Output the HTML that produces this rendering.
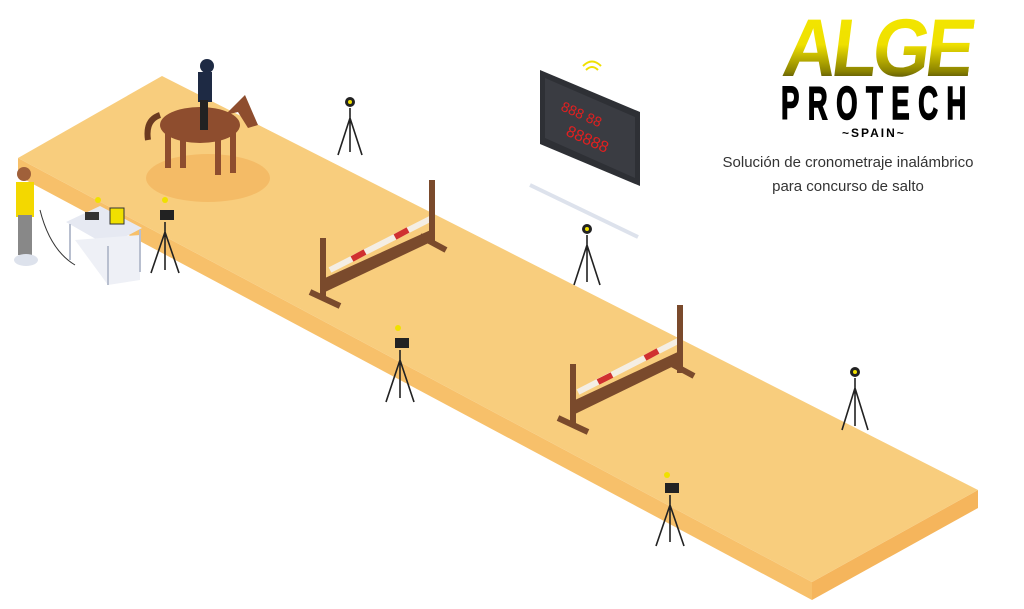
<!DOCTYPE html>
<html><head><meta charset="utf-8"><style>
html,body{margin:0;padding:0;background:#fff}
body{width:1024px;height:609px;position:relative;overflow:hidden;font-family:"Liberation Sans",sans-serif}
.alge{position:absolute;left:784px;top:4px;font-size:82px;font-weight:bold;letter-spacing:-5px;line-height:90px;background:linear-gradient(180deg,#f4e800 0%,#efe000 45%,#8a8200 75%,#111 95%);-webkit-background-clip:text;background-clip:text;color:transparent;transform:scaleX(0.9) skewX(-8deg);transform-origin:left}
.pro{position:absolute;left:781px;top:80px;font-size:46px;font-weight:bold;letter-spacing:14px;line-height:46px;transform:scaleX(0.6);transform-origin:left;color:#000;-webkit-text-stroke:1.5px #000}
.spain{position:absolute;left:842px;top:126px;font-size:12px;font-weight:bold;letter-spacing:2px}
.sub{position:absolute;left:720px;top:151px;width:256px;text-align:center;font-size:15px;line-height:24px;color:#333}
</style></head><body>
<svg width="1024" height="609" style="position:absolute;left:0;top:0">
<polygon points="18,158 812,582 812,600 18,176" fill="#f7c06a"/>
<polygon points="812,582 978,490 978,508 812,600" fill="#f5b55c"/>
<polygon points="18,158 162,76 978,490 812,582" fill="#f8cd7d"/>
<ellipse cx="208" cy="178" rx="62" ry="24" fill="#f4bb66"/>
<line x1="530" y1="185" x2="638" y2="237" stroke="#dde2ec" stroke-width="4"/>
<polygon points="540,70 640,112 640,186 540,144" fill="#2e3035"/>
<polygon points="545,78 635,117 635,178 545,138" fill="#3a3c42"/>
<text x="560" y="110" fill="#e02020" font-size="14" transform="rotate(24 560 110)">888 88</text>
<text x="565" y="135" fill="#e02020" font-size="16" transform="rotate(24 565 135)">88888</text>
<path d="M586,70 q6,-6 12,0 M583,66 q9,-9 18,0" stroke="#f0e000" stroke-width="2" fill="none"/>
<g fill="#8e4d2e">
<ellipse cx="200" cy="125" rx="40" ry="18"/>
<polygon points="225,115 245,95 258,125 248,128 238,112"/>
<rect x="165" y="128" width="6" height="40"/><rect x="180" y="130" width="6" height="38"/>
<rect x="215" y="130" width="6" height="45"/><rect x="230" y="128" width="6" height="45"/>
<path d="M160,115 q-15,5 -12,25" stroke="#6b3a20" stroke-width="6" fill="none"/>
</g>
<rect x="198" y="72" width="14" height="30" fill="#1e2a44"/><circle cx="207" cy="66" r="7" fill="#1e2a44"/>
<rect x="200" y="100" width="8" height="30" fill="#222"/>
<rect x="16" y="182" width="18" height="35" fill="#f3d800"/>
<rect x="18" y="215" width="14" height="40" fill="#888"/>
<circle cx="24" cy="174" r="7" fill="#a0603a"/>
<ellipse cx="26" cy="260" rx="12" ry="6" fill="#dde2ec"/>
<polygon points="66,222 100,206 142,228 108,246" fill="#e6e9f2"/>
<polygon points="75,240 140,235 140,280 108,285" fill="#eef0f6"/>
<g stroke="#b8bfcf" stroke-width="2"><line x1="70" y1="224" x2="70" y2="260"/><line x1="108" y1="246" x2="108" y2="285"/><line x1="140" y1="230" x2="140" y2="272"/></g>
<rect x="110" y="208" width="14" height="16" fill="#f0e000" stroke="#333"/>
<rect x="85" y="212" width="14" height="8" fill="#333"/>
<path d="M40,210 q10,40 35,55" stroke="#333" fill="none"/>
<g>
<line x1="330" y1="270" x2="432" y2="218" stroke="#f4eee4" stroke-width="6"/>
<line x1="352" y1="259" x2="365" y2="252" stroke="#d03030" stroke-width="6"/>
<line x1="395" y1="237" x2="408" y2="230" stroke="#d03030" stroke-width="6"/>
<polygon points="325,278 435,228 435,240 325,292" fill="#7a4a2c"/>
<rect x="320" y="238" width="6" height="60" fill="#7a4a2c"/><rect x="429" y="180" width="6" height="64" fill="#7a4a2c"/>
<line x1="310" y1="292" x2="340" y2="306" stroke="#7a4a2c" stroke-width="6"/>
<line x1="420" y1="236" x2="446" y2="250" stroke="#7a4a2c" stroke-width="6"/>
</g>
<g>
<line x1="578" y1="392" x2="680" y2="340" stroke="#f4eee4" stroke-width="6"/>
<line x1="598" y1="382" x2="612" y2="375" stroke="#d03030" stroke-width="6"/>
<line x1="645" y1="358" x2="658" y2="351" stroke="#d03030" stroke-width="6"/>
<polygon points="575,400 682,350 682,362 575,414" fill="#7a4a2c"/>
<rect x="570" y="364" width="6" height="62" fill="#7a4a2c"/><rect x="677" y="305" width="6" height="68" fill="#7a4a2c"/>
<line x1="558" y1="418" x2="588" y2="432" stroke="#7a4a2c" stroke-width="6"/>
<line x1="668" y1="362" x2="694" y2="376" stroke="#7a4a2c" stroke-width="6"/>
</g>
<g stroke="#222" stroke-width="1.6" fill="none">
<path d="M350,108 L350,130 M350,118 L338,155 M350,118 L362,155 M350,118 L350,152"/>
<path d="M587,235 L587,255 M587,245 L574,285 M587,245 L600,285 M587,245 L587,282"/>
<path d="M855,378 L855,400 M855,388 L842,430 M855,388 L868,430 M855,388 L855,426"/>
<path d="M165,222 L165,245 M165,232 L151,273 M165,232 L179,273 M165,232 L165,270"/>
<path d="M400,350 L400,372 M400,360 L386,402 M400,360 L414,402 M400,360 L400,398"/>
<path d="M670,495 L670,518 M670,505 L656,546 M670,505 L684,546 M670,505 L670,542"/>
</g>
<g fill="#222"><circle cx="350" cy="102" r="5"/><circle cx="587" cy="229" r="5"/><circle cx="855" cy="372" r="5"/>
<rect x="160" y="210" width="14" height="10"/><rect x="395" y="338" width="14" height="10"/><rect x="665" y="483" width="14" height="10"/></g>
<g fill="#f0e000"><circle cx="350" cy="102" r="2"/><circle cx="587" cy="229" r="2"/><circle cx="855" cy="372" r="2"/>
<circle cx="165" cy="200" r="3"/><circle cx="398" cy="328" r="3"/><circle cx="667" cy="475" r="3"/><circle cx="98" cy="200" r="3"/></g>
</svg>
<div class="alge">ALGE</div>
<div class="pro">PROTECH</div>
<div class="spain">~SPAIN~</div>
<div class="sub">Solución de cronometraje inalámbrico<br>para concurso de salto</div>
</body></html>
